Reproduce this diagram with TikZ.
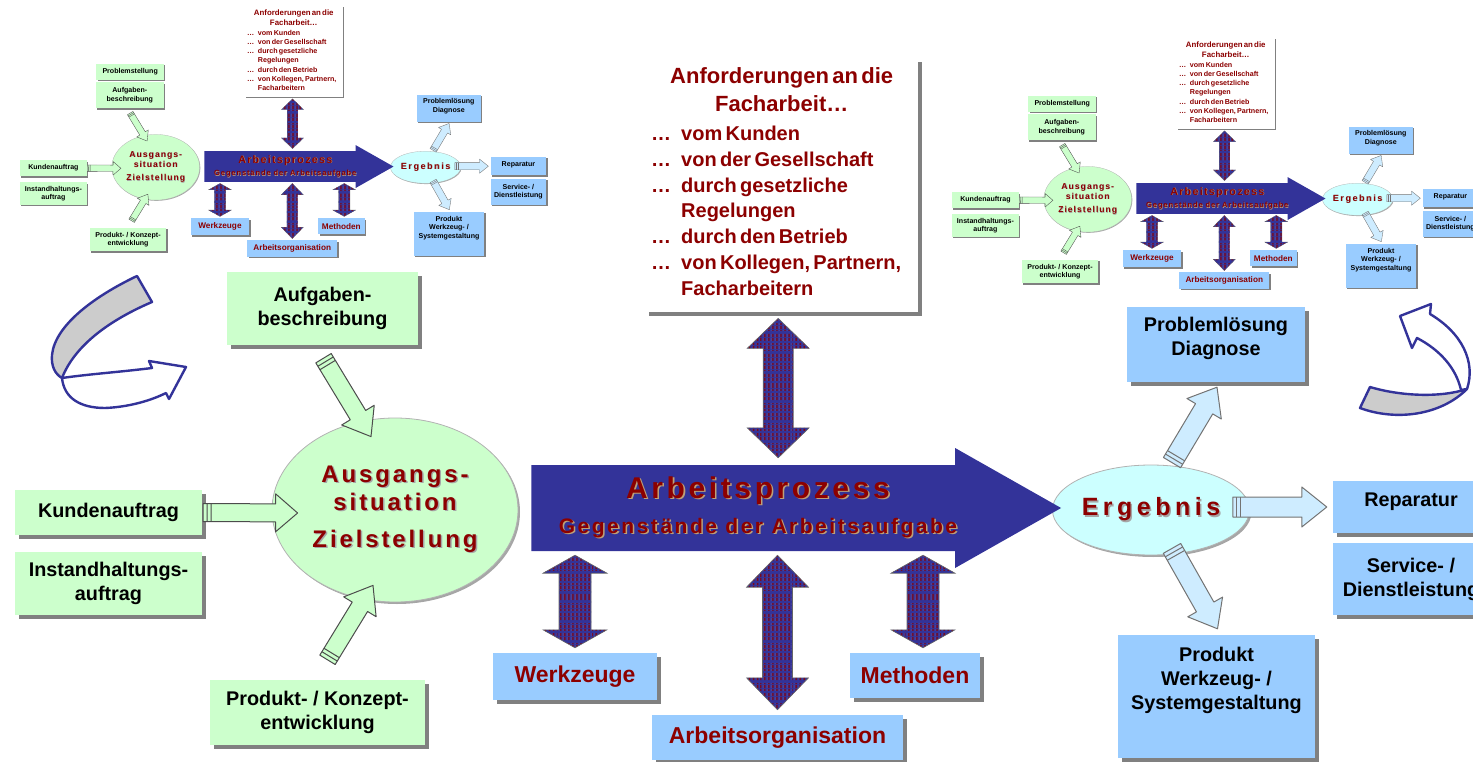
\documentclass[tikz,border=0pt]{standalone}
\usepackage{fontspec}
\setmainfont{Liberation Sans}
\newfontfamily\spacedfont[LetterSpace=12]{Liberation Sans}
\newfontfamily\widefont[LetterSpace=18]{Liberation Sans}
\usetikzlibrary{calc,shapes.geometric,shadows,patterns.meta}

\definecolor{boxgreen}{RGB}{204,255,204}
\definecolor{boxblue}{RGB}{153,204,255}
\definecolor{ergcyan}{RGB}{204,255,255}
\definecolor{arrowblue}{RGB}{206,236,255}
\definecolor{procblue}{RGB}{51,51,153}
\definecolor{dred}{RGB}{140,0,0}
\definecolor{shadowgray}{RGB}{128,128,128}
\definecolor{bandgray}{RGB}{204,204,204}
\definecolor{shadetan}{RGB}{190,160,120}

% text with a small offset shadow
\newcommand\shd[2]{\leavevmode\rlap{\hspace{1.5pt}\raisebox{-1.5pt}{\textcolor{#1}{#2}}}#2}

% block arrows: style, from, to, shaft half width, head half width, head length
\newcommand\blockarrow[6]{%
  \draw[#1] let \p1=(#2), \p2=(#3), \n1={atan2(\y2-\y1,\x2-\x1)}, \n2={veclen(\x2-\x1,\y2-\y1)} in
    ($(\p1)+(\n1+90:#4pt)$) -- ($(\p1)+(\n1:\n2-#6pt)+(\n1+90:#4pt)$)
    -- ($(\p1)+(\n1:\n2-#6pt)+(\n1+90:#5pt)$) -- (\p2)
    -- ($(\p1)+(\n1:\n2-#6pt)+(\n1-90:#5pt)$) -- ($(\p1)+(\n1:\n2-#6pt)+(\n1-90:#4pt)$)
    -- ($(\p1)+(\n1-90:#4pt)$) -- cycle;}
\newcommand\bandarrow[6]{%
  \blockarrow{#1}{#2}{#3}{#4}{#5}{#6}
  \draw[#1,fill=none] let \p1=(#2), \p2=(#3), \n1={atan2(\y2-\y1,\x2-\x1)} in
    ($(\p1)+(\n1:4pt)+(\n1+90:#4pt)$) -- ($(\p1)+(\n1:4pt)+(\n1-90:#4pt)$)
    ($(\p1)+(\n1:8pt)+(\n1+90:#4pt)$) -- ($(\p1)+(\n1:8pt)+(\n1-90:#4pt)$);}
\newcommand\dblarrow[6]{%
  \path[#1] let \p1=(#2), \p2=(#3), \n1={atan2(\y2-\y1,\x2-\x1)}, \n2={veclen(\x2-\x1,\y2-\y1)} in
    (\p1) -- ($(\p1)+(\n1:#6pt)+(\n1+90:#5pt)$) -- ($(\p1)+(\n1:#6pt)+(\n1+90:#4pt)$)
    -- ($(\p1)+(\n1:\n2-#6pt)+(\n1+90:#4pt)$) -- ($(\p1)+(\n1:\n2-#6pt)+(\n1+90:#5pt)$)
    -- (\p2) -- ($(\p1)+(\n1:\n2-#6pt)+(\n1-90:#5pt)$) -- ($(\p1)+(\n1:\n2-#6pt)+(\n1-90:#4pt)$)
    -- ($(\p1)+(\n1:#6pt)+(\n1-90:#4pt)$) -- ($(\p1)+(\n1:#6pt)+(\n1-90:#5pt)$) -- cycle;}

\tikzset{
  boxshadow/.style={drop shadow={shadow xshift=4pt,shadow yshift=-4pt,fill=shadowgray,opacity=1}},
  gbox/.style={fill=boxgreen, text=black, align=center, inner sep=0pt, boxshadow,
    font=\bfseries\fontsize{19.8}{24}\selectfont},
  bbox/.style={gbox, fill=boxblue},
  rbox/.style={bbox, text=dred, font=\bfseries\fontsize{23}{27}\selectfont},
  anfbox/.style={fill=white, text=dred, inner xsep=6pt, inner ysep=0pt, minimum height=254,
    text width=261pt, align=left, font=\bfseries, boxshadow},
  ausgell/.style={ellipse, fill=boxgreen, draw=gray!60, line width=0.8pt, minimum width=246,
    minimum height=184, inner sep=0pt, align=center, text=dred,
    font=\spacedfont\bfseries\fontsize{24}{28}\selectfont,
    drop shadow={shadow xshift=2pt,shadow yshift=-2pt,fill=gray!70,opacity=1}},
  ergell/.style={ausgell, fill=ergcyan, minimum width=197, minimum height=90,
    font=\widefont\bfseries\fontsize{25}{30}\selectfont},
  proztext/.style={text=dred, align=center, minimum height=86, inner sep=0pt,
    font=\spacedfont\bfseries\fontsize{21}{35}\selectfont},
  mainarrow/.style={fill=procblue, draw=none},
  greenarrow/.style={fill=boxgreen, draw=black!70, line width=1pt, line join=round},
  bluearrow/.style={fill=arrowblue, draw=black!55, line width=1pt, line join=round},
  purplearrow/.style={fill=procblue,
    postaction={pattern={Lines[angle=90,distance=4pt,line width=1.7pt]}, pattern color=dred!90!procblue},
    postaction={pattern={Lines[angle=0,distance=10pt,line width=2.5pt]}, pattern color=procblue},
    postaction={draw=black!60, line width=0.6pt}},
  curveband/.style={draw=procblue, line width=2.4pt, line join=round}
}

\newcommand\processdiagram{%
  \node[anfbox, anchor=north west] (anf) at (645,58) {%
    {\centering\fontsize{22}{28}\selectfont Anforderungen an die\\Facharbeit\dots\par}
    \vspace{10pt}
    {\fontsize{20}{25.7}\selectfont
    \begin{tabular}{@{}l@{\hspace{10pt}}l@{}}
      \dots & vom Kunden\\
      \dots & von der Gesellschaft\\
      \dots & durch gesetzliche\\
            & Regelungen\\
      \dots & durch den Betrieb\\
      \dots & von Kollegen, Partnern,\\
            & Facharbeitern
    \end{tabular}}};
  \node[gbox, minimum width=187, minimum height=45] (kund) at (108.5,512.5) {Kundenauftrag};
  \node[gbox, minimum width=187, minimum height=63] (inst) at (108.5,583.5) {Instandhaltungs-\\auftrag};
  \node[gbox, minimum width=191, minimum height=73] (aufg) at (322.5,308.5) {Aufgaben-\\beschreibung};
  \node[gbox, minimum width=215, minimum height=65] (konz) at (317.5,712.5) {Produkt- / Konzept-\\entwicklung};
  \node[bbox, minimum width=178, minimum height=75] (plm) at (1216,344.5) {Problemlösung\\Diagnose\\[-8pt]\mbox{}};
  \node[bbox, minimum width=156, minimum height=52] (rep) at (1411,507) {Reparatur\\[-10pt]\mbox{}};
  \node[bbox, minimum width=156, minimum height=72] (serv) at (1411,579) {Service- /\\Dienstleistung};
  \node[bbox, minimum width=197, minimum height=123] (prod) at (1216.5,696.5) {Produkt\\Werkzeug- /\\Systemgestaltung\\[12pt]\mbox{}};
  \node[rbox, minimum width=164, minimum height=47] (werk) at (575,676.5) {Werkzeuge};
  \node[rbox, minimum width=251, minimum height=45] (aorg) at (777.5,737.5) {Arbeitsorganisation};
  \node[rbox, minimum width=130, minimum height=45] (meth) at (915,675.5) {Methoden};
  \node[ausgell] (ausg) at (395,510) {\shd{gray!70}{Ausgangs-}\\\shd{gray!70}{situation}\\[9pt]\shd{gray!70}{Zielstellung}};
  \node[ergell] (erg) at (1151,510) {\shd{gray!70}{Ergebnis}};
  % main process arrow
  \blockarrow{mainarrow}{$(ausg.east)+(13,-2)$}{$(erg.west)+(9,-2)$}{43}{60}{106}
  \node[proztext] (proz) at (758,508) {{\fontsize{30}{35}\selectfont\shd{shadetan}{Arbeitsprozess}}\\\shd{shadetan}{Gegenstände der Arbeitsaufgabe}};
  % double arrows
  \dblarrow{purplearrow}{$(anf.south)+(-3.5,6)$}{$(anf.south |- proz.north)+(-3.5,-7)$}{15}{31}{30}
  \dblarrow{purplearrow}{$(werk.north |- proz.south)+(0,4)$}{$(werk.north)+(0,-5)$}{16}{32}{18}
  \dblarrow{purplearrow}{$(aorg.north |- proz.south)+(0,4)$}{$(aorg.north)+(0,-5)$}{15}{31}{32}
  \dblarrow{purplearrow}{$(meth.north |- proz.south)+(8,4)$}{$(meth.north)+(8,-5)$}{16}{32}{18}
  % inputs
  \bandarrow{greenarrow}{$(kund.east)+(1,0)$}{$(ausg.west)+(26,3)$}{9}{19}{22}
  \bandarrow{greenarrow}{$(aufg.south)+(1,13)$}{$(ausg.north)+(-24,19)$}{9}{19}{25}
  \bandarrow{greenarrow}{$(konz.north)+(10,-20)$}{$(ausg.south)+(-22,-17)$}{9}{19}{25}
  % results
  \bandarrow{bluearrow}{$(erg.north)+(21,-2)$}{$(plm.south)+(1,5)$}{10}{20}{25}
  \bandarrow{bluearrow}{$(erg.east)+(-17,-3)$}{$(rep.west)+(-6,0)$}{10}{20}{25}
  \bandarrow{bluearrow}{$(erg.south)+(21,-7)$}{$(prod.north)+(1,-6)$}{10}{20}{25}
}

\begin{document}
\begin{tikzpicture}[x=1pt,y=-1pt]
\useasboundingbox (0,0) rectangle (1473,762);
\clip (0,0) rectangle (1473,762);

% small copies at the top
\begin{scope}[transform canvas={shift={(14.7pt,14.8pt)},scale=0.357}]
  \processdiagram
  \node[gbox, minimum width=189, minimum height=45] (prob) at (323.5,242.5) {Problemstellung};
\end{scope}
\begin{scope}[transform canvas={shift={(946.7pt,-17.2pt)},scale=0.357}]
  \processdiagram
  \node[gbox, minimum width=189, minimum height=45] (prob) at (323.5,242.5) {Problemstellung};
\end{scope}

\processdiagram

% turning arrows
\draw[curveband, fill=bandgray] (137,276) -- (152,302) .. controls (110,320) and (75,345) .. (62,378)
  .. controls (55,374) and (51,366) .. (52,355) .. controls (55,325) and (95,296) .. (137,276) -- cycle;
\draw[curveband, fill=white] (62,378) .. controls (64,398) and (80,408) .. (105,408)
  .. controls (130,407) and (152,400) .. (166,393) -- (169,399) -- (186,367) -- (149,361) -- (152,368)
  .. controls (120,372) and (90,374) .. (62,378) -- cycle;
\draw[curveband, fill=bandgray] (1370,387) -- (1360,408) .. controls (1395,421) and (1440,416) .. (1467,389)
  .. controls (1440,398) and (1400,396) .. (1370,387) -- cycle;
\draw[curveband, fill=white] (1467,389) .. controls (1476,362) and (1462,333) .. (1430,314) -- (1431,304)
  -- (1400,316) -- (1412,348) -- (1417,338) .. controls (1440,350) and (1456,368) .. (1461,390) -- cycle;
\end{tikzpicture}
\end{document}
